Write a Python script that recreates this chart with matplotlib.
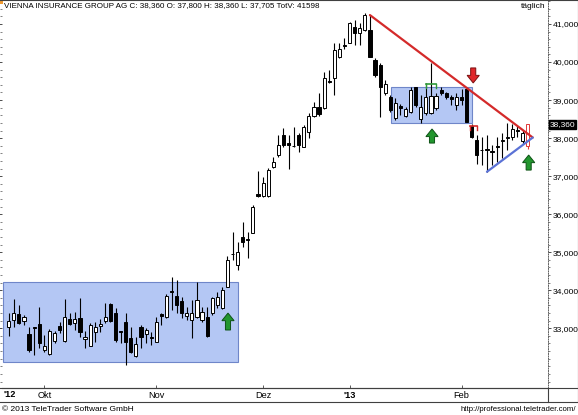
import matplotlib
matplotlib.use("Agg")
import matplotlib.pyplot as plt
from matplotlib.patches import Rectangle, Polygon
from matplotlib.lines import Line2D
from matplotlib.ticker import MultipleLocator, FuncFormatter
import matplotlib.transforms as mtransforms

plt.rcParams['font.family'] = ['Liberation Sans', 'DejaVu Sans']

# ---- daily OHLC, Vienna Insurance Group, Sep 2012 - Feb 2013 ----
opens = [33025, 33220, 33375, 33200, 32850, 33035, 33115, 32430, 32325, 32665,
         33060, 32660, 33245, 33130, 33265, 32725, 32545, 32910, 33060, 33200,
         33630, 33410, 32930, 33175, 32735, 32270, 33040, 32850, 32770, 32650,
         33370, 33305, 33990, 33850, 33720, 33325, 33220, 33305, 33220, 33305,
         33395, 33610, 33525, 34095, 34965, 34665, 35390, 35350, 35515, 36520,
         36480, 36480, 37250, 37555, 38080, 37860, 37805, 38080, 37775, 38170,
         38580, 38825, 38785, 39495, 39570, 40140, 40460, 40510, 40915, 40755,
         40840, 40840, 40055, 39920, 39180, 39075, 38520, 38845, 38580, 38695,
         39335, 38495, 38650, 38670, 38785, 39265, 39180, 39075, 38870, 39075,
         39285, 38320, 37950, 37700, 37720, 37660, 37785, 37920, 38010, 38020,
         38210, 37930, 37800]
highs = [33400, 33770, 33610, 33350, 33040, 33040, 33560, 32825, 32980, 32935,
         33175, 33770, 33400, 33435, 33795, 32935, 33140, 33175, 33235, 33655,
         33655, 33525, 32930, 33395, 33040, 32780, 33085, 33000, 32910, 33305,
         33410, 33900, 34355, 34270, 33810, 33570, 33745, 34225, 33570, 33570,
         33830, 33960, 34095, 34900, 35540, 35275, 35800, 35540, 36240, 37145,
         36985, 37205, 37510, 38080, 38260, 38080, 38300, 38140, 38345, 38650,
         38955, 39195, 39745, 39790, 40495, 40495, 40625, 41060, 41105, 41020,
         41280, 41235, 40100, 39965, 39530, 39135, 39045, 38895, 38810, 39350,
         39350, 39135, 39440, 39965, 39180, 39335, 39220, 39135, 39180, 39285,
         39300, 38370, 38080, 38035, 38080, 37820, 38020, 38125, 38390, 38370,
         38320, 38215, 38360]
lows = [32800, 33035, 33115, 33085, 32375, 32300, 32480, 32385, 32305, 32620,
        32875, 32640, 33085, 32955, 32780, 32480, 32535, 32650, 32910, 33145,
        33175, 32650, 32605, 32035, 32345, 32255, 32475, 32605, 32560, 32645,
        33085, 33265, 33480, 33395, 33270, 33220, 32735, 33265, 33175, 32780,
        33350, 33525, 33500, 34090, 34795, 34535, 35145, 34840, 35500, 36460,
        36445, 36460, 37205, 37510, 37760, 37180, 37775, 37645, 37760, 37995,
        38545, 38580, 38755, 39455, 39135, 40100, 40335, 40495, 40450, 40450,
        40825, 40130, 39615, 38565, 39135, 38695, 38475, 38610, 38565, 38650,
        38825, 38390, 38610, 38635, 38740, 39135, 39020, 38870, 38740, 38870,
        38420, 37995, 37320, 37295, 37115, 37295, 37380, 37470, 37690, 37950,
        38035, 37845, 37705]
closes = [33200, 33410, 33150, 33290, 32430, 33010, 32605, 32535, 32935, 32875,
          32955, 33290, 33115, 33235, 32910, 32780, 33085, 33040, 33115, 33305,
          33200, 32690, 32905, 32650, 32385, 32585, 32780, 32955, 32745, 33175,
          33325, 33850, 33955, 33610, 33415, 33410, 33395, 33745, 33435, 32800,
          33790, 33830, 34005, 34795, 34940, 35015, 35275, 35320, 36180, 36490,
          36810, 37160, 37380, 37820, 37820, 37830, 37780, 37820, 38285, 38580,
          38810, 38635, 39570, 39470, 40315, 40335, 40435, 41035, 40770, 40885,
          41235, 40140, 39660, 39350, 39425, 38740, 38930, 38785, 38755, 39265,
          38870, 38825, 39090, 39105, 39105, 39195, 39075, 39020, 39090, 39000,
          38430, 38020, 37555, 37675, 37695, 37640, 37760, 37945, 38035, 38230,
          38180, 38125, 38360]

month_start_idx = [7, 29, 50, 67, 89]
month_labels = ['Okt', 'Nov', 'Dez', "'13", 'Feb']
year_labels = {"'12", "'13"}

price_ticks = [33000, 34000, 35000, 36000, 37000, 38000, 39000, 40000, 41000]

# chart annotations: rectangles (x0, x1, low, high), trend lines, arrows, markers
range_boxes = [(-1.1, 45.1, 32115, 34215), (75.1, 91.1, 38405, 39335)]
resistance_line = [(71, 41235), (103, 38015)]
support_line = [(94, 37115), (103, 38015)]
up_arrows = [(43.1, 33400, 32955), (83.2, 38240, 37870), (102.2, 37555, 37160)]
down_arrows = [(91.3, 39450, 39845)]
level_marks = [(83.0, 39435, 1.0, '#2f9a3a'), (91.4, 38318, 0.7, '#d42a2a')]

title = "VIENNA INSURANCE GROUP AG C: 38,360 O: 37,800 H: 38,360 L: 37,705 TotV: 41598"

W, H = 578, 415
fig = plt.figure(figsize=(W / 100, H / 100), dpi=100)


def fx(px):
    return px / W


def fy(py):
    return 1 - py / H


ax = fig.add_axes([fx(2), fy(388), fx(548) - fx(2), fy(1) - fy(388)])
ax.set_xlim(-1.32, 106.0)
ax.set_ylim(31430, 41605)
ax.set_facecolor('white')

# range boxes
for x0, x1, lo, hi in range_boxes:
    ax.add_patch(Rectangle((x0, lo), x1 - x0, hi - lo, facecolor='#b4c7f4',
                           edgecolor='#6f86c9', lw=0.8, zorder=1))

# candlesticks
body_w = 0.62
n = len(closes)
for i in range(n):
    o, h, l, c = opens[i], highs[i], lows[i], closes[i]
    last = (i == n - 1)
    edge = '#e03a3a' if last else 'black'
    ax.vlines(i, l, h, colors=edge, lw=0.8, zorder=2)
    bottom = min(o, c)
    height = max(abs(c - o), 20)
    face = 'white' if c >= o else 'black'
    ax.add_patch(Rectangle((i - body_w / 2, bottom), body_w, height,
                           facecolor=face, edgecolor=edge, lw=0.7, zorder=3))

# trend lines
for pts, col in ((resistance_line, '#d42a2a'), (support_line, '#5b72d6')):
    ax.plot([p[0] for p in pts], [p[1] for p in pts], color=col, lw=1.6,
            zorder=4, solid_capstyle='round')

# level markers
for xm, ym, hw, col in level_marks:
    ax.plot([xm - hw, xm + hw], [ym, ym], color=col, lw=1.2, zorder=5)
    for xe in (xm - hw, xm + hw):
        ax.plot([xe, xe], [ym, ym - 110], color=col, lw=1.0, zorder=5)


def block_arrow(xc, y_tip, y_base, fc, ec):
    head_w, stem_w = 2.4, 1.0
    d = 1 if y_tip > y_base else -1
    hl = 200 * d
    pts = [(xc, y_tip), (xc + head_w / 2, y_tip - hl), (xc + stem_w / 2, y_tip - hl),
           (xc + stem_w / 2, y_base), (xc - stem_w / 2, y_base),
           (xc - stem_w / 2, y_tip - hl), (xc - head_w / 2, y_tip - hl)]
    ax.add_patch(Polygon(pts, closed=True, facecolor=fc, edgecolor=ec, lw=0.7, zorder=6))


for xc, yt, yb in up_arrows:
    block_arrow(xc, yt, yb, '#22962e', '#0d5215')
for xc, yt, yb in down_arrows:
    block_arrow(xc, yt, yb, '#e0262a', '#7a1010')

# axes styling
for s in ('left', 'top', 'bottom', 'right'):
    ax.spines[s].set_visible(False)
ax.spines['bottom'].set_visible(True)
ax.spines['bottom'].set_color('#404040')
ax.spines['bottom'].set_linewidth(0.8)
ax.spines['right'].set_visible(True)
ax.spines['right'].set_linestyle((0, (1, 1.5)))
ax.spines['right'].set_color('#606060')
ax.spines['right'].set_linewidth(0.7)

ax.set_yticks(price_ticks)
ax.yaxis.set_major_formatter(FuncFormatter(lambda v, p: f"{int(v):,}"))
ax.yaxis.set_minor_locator(MultipleLocator(200))
ax.tick_params(axis='y', which='major', left=True, right=True, labelleft=False,
               labelright=True, direction='out', length=2.5, width=0.6, pad=1,
               labelsize=6.1, colors='#303030', labelcolor='black')
ax.tick_params(axis='y', which='minor', left=True, right=True, direction='out',
               length=1.5, width=0.5, colors='#505050')

ax.set_xticks(month_start_idx)
ax.set_xticklabels(month_labels)
ax.tick_params(axis='x', which='major', direction='in', length=2.5, width=0.6,
               pad=2.5, labelsize=6.6, colors='#404040', labelcolor='black')
for lbl in ax.get_xticklabels():
    if lbl.get_text() in year_labels:
        lbl.set_fontweight('bold')
ax.text(0.002, -0.006, "'12", transform=ax.transAxes, ha='left', va='top',
        fontsize=6.6, fontweight='bold')

# current price tag on the price scale
tag_tr = mtransforms.blended_transform_factory(ax.transAxes, ax.transData)
ax.text(1.003, closes[-1], f"{closes[-1]:,}", transform=tag_tr, ha='left',
        va='center', fontsize=6.0, color='white', zorder=10,
        bbox=dict(boxstyle='square,pad=0.12', facecolor='black', edgecolor='black'))

# header and frame
fig.text(fx(4), fy(5.5), title, ha='left', va='center', fontsize=5.8)
fig.text(fx(546), fy(6), 'täglich', ha='right', va='center', fontsize=6.0)
fig.add_artist(Rectangle((0, fy(4.5)), fx(2.5), fy(0) - fy(4.5),
                         transform=fig.transFigure, facecolor='#f09a30',
                         edgecolor='none'))
frame = '#404040'
for (x0, y0, x1, y1) in [(0, 0.5, 578, 0.5), (0, 388, 578, 388), (0, 402, 578, 402),
                         (548, 388, 548, 402), (577.5, 0, 577.5, 402)]:
    fig.add_artist(Line2D([fx(x0), fx(x1)], [fy(y0), fy(y1)], color=frame, lw=0.8,
                          transform=fig.transFigure))

fig.text(fx(2), fy(409), '© 2013 TeleTrader Software GmbH', ha='left', va='center',
         fontsize=6.0)
fig.text(fx(576), fy(409), 'http://professional.teletrader.com/', ha='right',
         va='center', fontsize=5.6)

fig.savefig('out.png', dpi=100, facecolor='white')
